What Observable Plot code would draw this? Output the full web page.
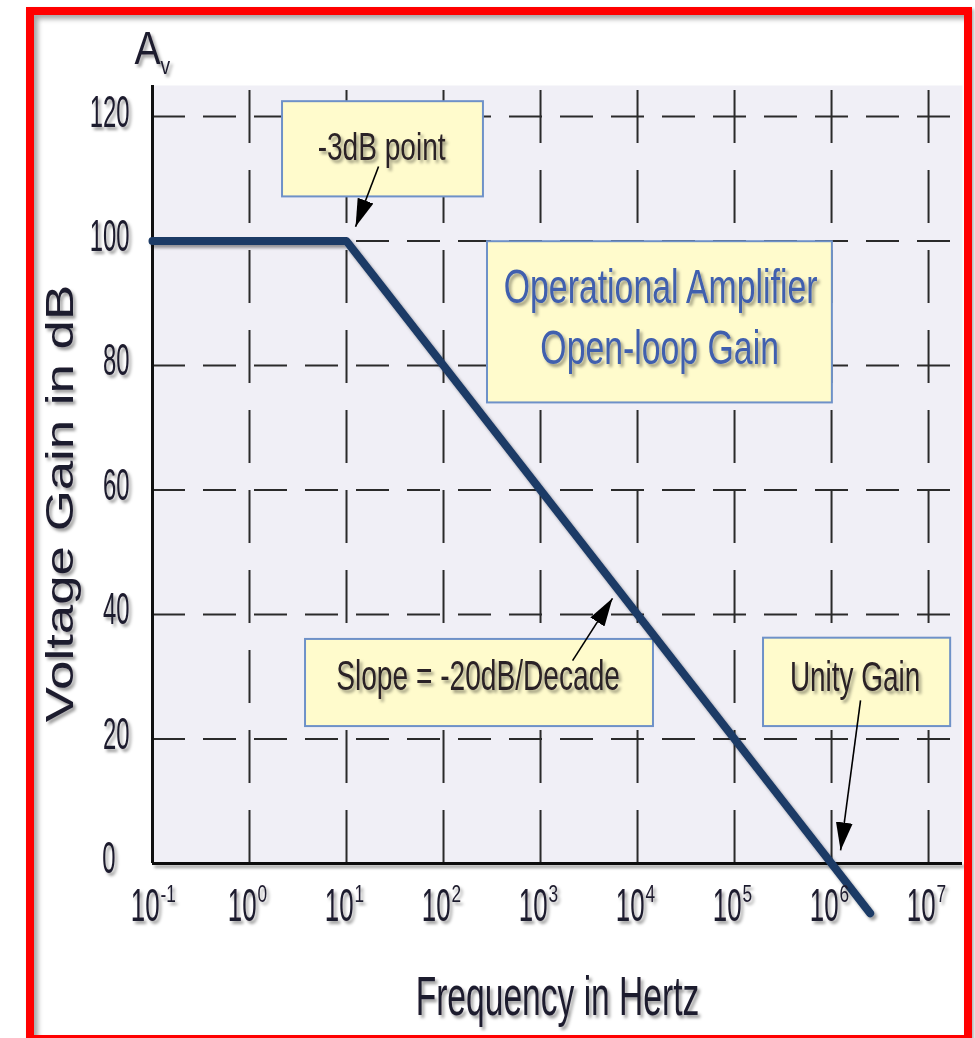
<!DOCTYPE html>
<html><head><meta charset="utf-8">
<script src="https://cdn.jsdelivr.net/npm/d3@7"></script>
<script src="https://cdn.jsdelivr.net/npm/@observablehq/plot@0.6"></script>
<style>
html,body{margin:0;padding:0;background:#fff;overflow:hidden}
#wrap{position:relative;width:975px;height:1038px;overflow:hidden;background:#fff}
#wrap svg{display:block}
#frame{position:absolute;z-index:5;left:26px;top:7px;width:946px;height:1036px;border:8px solid #ff0000;box-sizing:border-box;box-shadow:inset 4px 4px 5px rgba(0,0,0,.35),2px 2px 3px rgba(0,0,0,.3);pointer-events:none}
</style></head><body><div id="wrap"><div id="frame"></div></div>
<script>
const FONT = "'Liberation Sans', Arial, sans-serif";

// ---- data ----
const xExponents = [-1, 0, 1, 2, 3, 4, 5, 6, 7];
const yTicks = [0, 20, 40, 60, 80, 100, 120];
const gridDb = [20, 40, 60, 80, 100, 120];
const gainFreq = [0.1, 10, 1e6, 2.5e6];
const gainDb = [100, 100, 0, -8];

const noteBoxX1 = [2.19, 284, 3.78, 1.99e5];
const noteBoxX2 = [258, 1.02e6, 1.46e4, 1.69e7];
const noteBoxY1 = [107.1, 74.0, 22.0, 22.0];
const noteBoxY2 = [122.4, 99.9, 36.0, 36.2];

const arrowX1 = [21.4, 2140, 1.99e6];
const arrowY1 = [112.0, 32.6, 26.2];
const arrowX2 = [12.4, 5520, 1.24e6];
const arrowY2 = [102.3, 42.6, 2.1];

const noteText = ["-3dB point", "Operational Amplifier", "Open-loop Gain", "Slope = -20dB/Decade", "Unity Gain"];
const noteX = [23.0, 1.73e4, 1.69e4, 227, 1.75e6];
const noteY = [115.0, 92.6, 82.7, 30.1, 29.9];

const titleText = ["A", "v"];
const xTitle = "Frequency in Hertz";
const yTitle = "Voltage Gain in dB";

// ---- helpers ----
const specs = []; // {mark, sx, shadow, arrow}
function add(mark, extra = {}) { specs.push({mark, ...extra}); }
function txt(data, opts, sx) {
  add(Plot.text(data, {fontFamily: FONT, lineAnchor: "middle", ...opts}), {sx, shadow: true});
}
const gain = gainFreq.map((f, i) => ({f, db: gainDb[i]}));
const boxes = noteBoxX1.map((_, i) => i);
const arrows = arrowX1.map((_, i) => i);
const TICK = "#1f1b2e";
const NOTE = "#2b2226";
const BLUE = "#3f5fae";

add(Plot.frame({fill: "#f0eff6", stroke: "none"}));
add(Plot.ruleX(xExponents.slice(1), {x: e => Math.pow(10, e), y1: 0, y2: 125, stroke: "#2a2a2a", strokeWidth: 2, strokeDasharray: "53,27"}));
add(Plot.ruleY(gridDb, {y: d => d, stroke: "#2a2a2a", strokeWidth: 2, strokeDasharray: "33,18"}));
add(Plot.ruleX([0.1], {x: d => d, y1: 0, y2: 125, stroke: "#111", strokeWidth: 3}));
add(Plot.ruleY([0], {y: d => d, stroke: "#111", strokeWidth: 3}), {shadow: true});
add(Plot.rect(boxes, {x1: i => noteBoxX1[i], x2: i => noteBoxX2[i], y1: i => noteBoxY1[i], y2: i => noteBoxY2[i], fill: "#fffbcc", stroke: "#6e91c8", strokeWidth: 2}));
add(Plot.line(gain, {x: "f", y: "db", stroke: "#1c3a66", strokeWidth: 8, clip: false}), {shadow: true});
add(Plot.link(arrows, {x1: i => arrowX1[i], y1: i => arrowY1[i], x2: i => arrowX2[i], y2: i => arrowY2[i], stroke: "#000", strokeWidth: 1.6}), {arrow: true});

txt([0], {text: i => noteText[i], x: i => noteX[i], y: i => noteY[i], fontSize: 39, fill: NOTE}, 0.72);
txt([1, 2], {text: i => noteText[i], x: i => noteX[i], y: i => noteY[i], fontSize: 49, fill: BLUE}, 0.69);
txt([3], {text: i => noteText[i], x: i => noteX[i], y: i => noteY[i], fontSize: 42, fill: NOTE}, 0.67);
txt([4], {text: i => noteText[i], x: i => noteX[i], y: i => noteY[i], fontSize: 43, fill: NOTE}, 0.65);

txt(yTicks.filter(v => v > 0), {y: v => v, text: v => String(v), frameAnchor: "left", textAnchor: "end", dx: -23, dy: -4.5, fontSize: 45, fill: TICK}, 0.53);
txt(yTicks.filter(v => v === 0), {y: v => v, text: v => String(v), frameAnchor: "left", textAnchor: "end", dx: -37, dy: -5, fontSize: 45, fill: TICK}, 0.53);
txt(xExponents, {x: e => Math.pow(10, e), text: () => "10", frameAnchor: "bottom", textAnchor: "end", dx: 7, dy: 42, fontSize: 47, fill: TICK}, 0.55);
txt(xExponents, {x: e => Math.pow(10, e), text: e => String(e), frameAnchor: "bottom", textAnchor: "start", dx: 8, dy: 31, fontSize: 24, fill: TICK}, 0.72);

txt([xTitle], {text: d => d, frameAnchor: "bottom", textAnchor: "middle", dy: 134, fontSize: 56, fill: TICK}, 0.6);
txt([yTitle], {text: d => d, frameAnchor: "left", textAnchor: "middle", rotate: -90, dx: -92, dy: 29, fontSize: 38, fill: TICK}, 1.39);
txt([titleText[0]], {text: d => d, frameAnchor: "top-left", textAnchor: "start", dx: -18, dy: -36.5, fontSize: 46, fill: TICK}, 0.85);
txt([titleText[1]], {text: d => d, frameAnchor: "top-left", textAnchor: "start", dx: 8, dy: -19, fontSize: 24, fill: TICK}, 0.8);

const chart = Plot.plot({
  width: 975, height: 1038,
  marginLeft: 152, marginRight: 13, marginTop: 85, marginBottom: 175,
  x: {type: "log", domain: [0.1, Math.pow(10, 7.35)], axis: null},
  y: {domain: [0, 125], axis: null},
  style: {background: "transparent", overflow: "visible"},
  marks: specs.map(s => s.mark)
});

// ---- post styling: defs, shadows, arrowheads, condensed text ----
const nodes = Array.from(chart.children).filter(n => n.tagName.toLowerCase() !== "style");
const NS = "http://www.w3.org/2000/svg";
const defs = document.createElementNS(NS, "defs");
defs.innerHTML = `<filter id="shd" filterUnits="userSpaceOnUse" x="0" y="0" width="975" height="1038"><feDropShadow dx="2.5" dy="3" stdDeviation="1.6" flood-color="#000" flood-opacity="0.38"/></filter>
<marker id="ahead" viewBox="0 -5 10 10" refX="10" refY="0" markerUnits="userSpaceOnUse" markerWidth="28" markerHeight="28" orient="auto"><path d="M0,-3L10,0L0,3Z" fill="#000"/></marker>`;
chart.insertBefore(defs, chart.firstChild);

if (nodes.length === specs.length) {
  specs.forEach((s, k) => {
    const g = nodes[k];
    if (s.shadow) g.setAttribute("filter", "url(#shd)");
    if (s.arrow) g.querySelectorAll("path, line").forEach(p => p.setAttribute("marker-end", "url(#ahead)"));
    if (s.sx != null) {
      const texts = g.tagName.toLowerCase() === "text" ? [g] : Array.from(g.querySelectorAll("text"));
      texts.forEach(t => {
        const tr = t.getAttribute("transform") || "";
        t.setAttribute("transform", `${tr} scale(${s.sx},1)`);
      });
    }
  });
}
document.getElementById("wrap").appendChild(chart);
</script></body></html>
